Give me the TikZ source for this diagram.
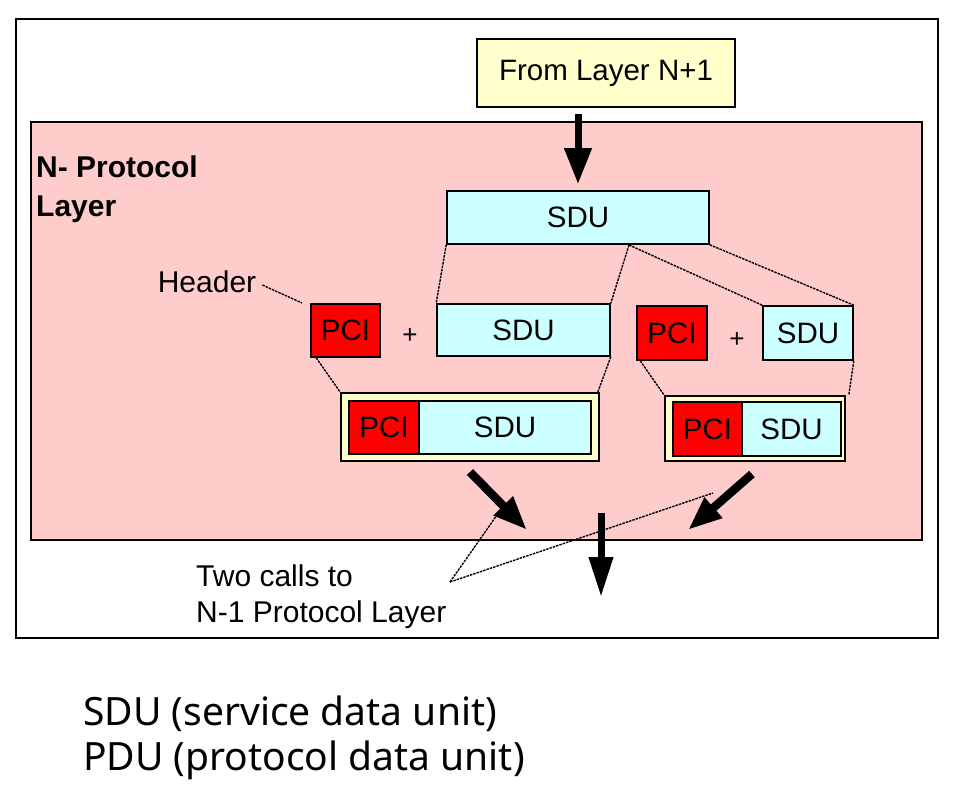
\documentclass[tikz,border=0pt]{standalone}
\usepackage{fontspec}
\setmainfont{Liberation Sans}
\newfontfamily\notefont{Noto Sans}
\usetikzlibrary{arrows.meta}
\definecolor{pinkbg}{RGB}{255,204,204}
\definecolor{cyanbox}{RGB}{204,255,255}
\definecolor{yellowbox}{RGB}{255,255,204}
\definecolor{redbox}{RGB}{255,0,0}
\tikzset{
  box/.style={draw=black, line width=1.6pt, inner sep=0pt, font=\fontsize{29.5}{32}\selectfont},
  sdubox/.style={box, fill=cyanbox},
  pcibox/.style={box, fill=redbox},
  pdubox/.style={box, fill=yellowbox},
  thinline/.style={draw=black, line width=1.4pt, dash pattern=on 2.5pt off 1pt},
  bigarrow/.style={draw=black, line width=7pt, -{Triangle[length=36pt,width=26pt]}},
  midarrow/.style={draw=black, line width=8.5pt, -{Triangle[length=34pt,width=25pt]}},
  lbl/.style={inner sep=0pt, font=\fontsize{30}{36}\selectfont, align=left}
}
\begin{document}
\begin{tikzpicture}[x=1pt,y=-1pt]
\useasboundingbox (0,0) rectangle (954,794);
% outer frame and layer background
\node[draw=black, line width=2pt, fill=white, minimum width=922pt, minimum height=619pt, inner sep=0pt] (frame) at (477,328.5) {};
\node[draw=black, line width=2pt, fill=pinkbg, minimum width=891pt, minimum height=418pt, inner sep=0pt] (layer) at (476.5,331) {};
\node[anchor=west, inner sep=0pt, align=left, font=\bfseries\fontsize{30}{39}\selectfont] (ltitle) at (36,189.5) {N- Protocol\\Layer};

% from layer N+1
\node[pdubox, minimum width=258pt, minimum height=68pt] (from) at (606,73) {From Layer N+1};
% top SDU
\node[sdubox, minimum width=262pt, minimum height=53pt] (topsdu) at (578,217.5) {SDU};
\draw[bigarrow, shorten <=6pt, shorten >=6pt] (from.south -| topsdu.north) -- (topsdu.north);

% left split
\node[pcibox, minimum width=69pt, minimum height=53pt] (pcil) at (345.5,330.5) {PCI};
\node[inner sep=0pt, font=\fontsize{26}{26}\selectfont] (plusl) at (410,336) {+};
\node[sdubox, minimum width=173pt, minimum height=52pt] (sdul) at (523.5,330) {SDU};
% right split
\node[pcibox, minimum width=70pt, minimum height=54pt] (pcir) at (672,333) {PCI};
\node[inner sep=0pt, font=\fontsize{26}{26}\selectfont] (plusr) at (737,340) {+};
\node[sdubox, minimum width=90pt, minimum height=54pt] (sdur) at (808,333) {SDU};

% header label
\node[lbl] (header) at (207,282) {Header};
\coordinate (hd) at (302,303);
\draw[thinline] ([xshift=6pt,yshift=-3pt]header.east) -- (hd);

% PDU left
\node[pdubox, minimum width=258pt, minimum height=68pt] (pdul) at (470,427) {};
\node[pcibox, minimum width=70pt, minimum height=53pt] (pdulpci) at (384,427.5) {PCI};
\node[sdubox, minimum width=172pt, minimum height=53pt] (pdulsdu) at (505,427.5) {SDU};
% PDU right
\node[pdubox, minimum width=180pt, minimum height=65pt] (pdur) at (755,428.5) {};
\node[pcibox, minimum width=69pt, minimum height=54pt] (pdurpci) at (707.5,429) {PCI};
\node[sdubox, minimum width=99pt, minimum height=54pt] (pdursdu) at (791.5,429) {SDU};

% split lines
\coordinate (split) at (629,245);
\draw[thinline] (topsdu.south west) -- (sdul.north west);
\draw[thinline] (split) -- (sdul.north east);
\draw[thinline] (split) -- (sdur.north west);
\draw[thinline] (topsdu.south east) -- (sdur.north east);
\draw[thinline] ([xshift=6pt]pcil.south west) -- (pdul.north west);
\draw[thinline] (sdul.south east) -- ([xshift=-2pt]pdul.north east);
\draw[thinline] ([xshift=4pt]pcir.south west) -- (pdur.north west);
\draw[thinline] (sdur.south east) -- ([xshift=3pt]pdur.north east);

% output arrows
\coordinate (a1s) at (470,472);
\coordinate (a1e) at (527,530);
\coordinate (a2s) at (752,474);
\coordinate (a2e) at (688,530);
\coordinate (a3s) at (601,513);
\coordinate (a3e) at (601,597);
\draw[midarrow] (a1s) -- (a1e);
\draw[midarrow] (a2s) -- (a2e);
\draw[bigarrow, line width=7pt, -{Triangle[length=40pt,width=23pt]}] (a3s) -- (a3e);

% two calls label
\node[lbl, anchor=north west] (calls) at (196,565) {Two calls to\\N-1 Protocol Layer};
\coordinate (lp) at (450,582);
\coordinate (h1) at (497,515);
\coordinate (h2) at (713,493);
\draw[thinline] (lp) -- (h1);
\draw[thinline] (lp) -- (h2);

% legend
\node[anchor=west, inner sep=0pt, align=left, font=\notefont\fontsize{39}{45}\selectfont] (legend) at (83,738) {SDU (service data unit)\\PDU (protocol data unit)};
\end{tikzpicture}
\end{document}
